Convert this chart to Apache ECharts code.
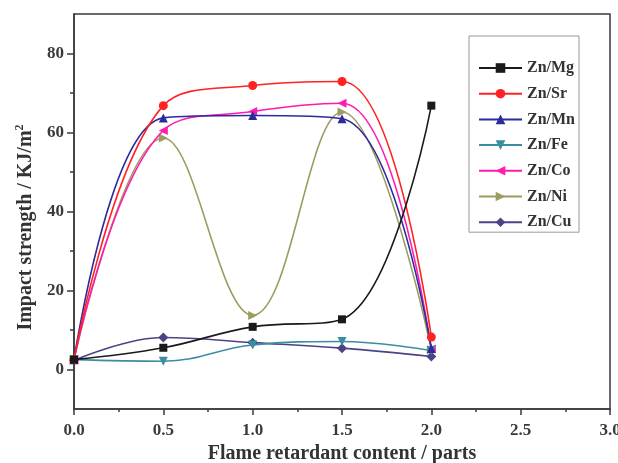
<!DOCTYPE html>
<html><head><meta charset="utf-8">
<script src="https://cdn.jsdelivr.net/npm/echarts@6/dist/echarts.min.js"></script>
<style>html,body{margin:0;padding:0;background:#fff}#c{width:618px;height:463px}</style>
</head><body><div id="c"></div>
<script>
const xValues = [0, 0.5, 1.0, 1.5, 2.0];
const seriesNames = ['Zn/Mg','Zn/Sr','Zn/Mn','Zn/Fe','Zn/Co','Zn/Ni','Zn/Cu'];
const znMg = [2.5, 5.5, 10.8, 12.7, 66.8];
const znSr = [2.5, 66.8, 71.9, 72.9, 8.2];
const znMn = [2.5, 63.7, 64.3, 63.5, 5.3];
const znFe = [2.5, 2.1, 6.2, 7.1, 4.8];
const znCo = [2.5, 60.5, 65.3, 67.4, 5.2];
const znNi = [2.5, 58.6, 13.7, 65.2, 5.0];
const znCu = [2.3, 8.1, 6.8, 5.4, 3.3];
const xTicks = [0, 0.5, 1.0, 1.5, 2.0, 2.5, 3.0];
const yLabelValues = [0, 20, 40, 60, 80];
const yMinorValues = [10, 30, 50, 70];

const colors = ['#1a1a1a','#ff2222','#2b2b9e','#3a8ea0','#ff1ab0','#9c9c5e','#4c4385'];
const symbols = ['rect','circle','triangle','path://M0,0 L10,0 L5,9 Z','path://M9,0 L9,10 L0,5 Z','path://M0,0 L0,10 L9,5 Z','diamond'];
const symSizes = [8,9,9,9,9,9,10];
const dataArr = [znMg, znSr, znMn, znFe, znCo, znNi, znCu];
const font = '"Liberation Serif","DejaVu Serif",serif';
const axisCol = '#3a3a3a';

const series = seriesNames.map((n,i)=>({
  name:n, type:'line', smooth:0.4,
  data: xValues.map((x,j)=>[x, dataArr[i][j]]),
  symbol: symbols[i], symbolSize: symSizes[i],
  lineStyle:{color:colors[i], width:1.6},
  itemStyle:{color:colors[i]},
  z: 10-i
}));

const chart = echarts.init(document.getElementById('c'));
chart.setOption({
  animation:false,
  backgroundColor:'#fff',
  grid:{left:74, right:8, top:14, bottom:54, outerBoundsMode:'none', containLabel:false,
    show:true, borderColor:axisCol, borderWidth:1.5, backgroundColor:'transparent'},
  legend:{
    orient:'vertical', left:469, top:36,
    data: seriesNames,
    itemWidth:43, itemHeight:12, itemGap:9.7,
    padding:[24,4,2,9],
    borderColor:'#999', borderWidth:1,
    textStyle:{fontFamily:font, fontWeight:'bold', fontSize:16, color:'#333'}
  },
  xAxis:{
    type:'value', min:0, max:3, interval:0.5,
    name:'Flame retardant content / parts', nameLocation:'middle', nameGap:27,
    nameTextStyle:{fontFamily:font, fontWeight:'bold', fontSize:20, color:'#333'},
    axisLine:{onZero:false, lineStyle:{color:axisCol, width:1.5}},
    axisTick:{show:true, length:6, lineStyle:{color:axisCol, width:1.5}},
    minorTick:{show:true, splitNumber:2, length:3, lineStyle:{color:axisCol, width:1.5}},
    splitLine:{show:false},
    axisLabel:{margin:13, fontFamily:font, fontWeight:'bold', fontSize:17, color:'#3a3a3a',
      formatter:v=>xTicks.includes(v)?v.toFixed(1):''}
  },
  yAxis:[{
    type:'value', min:-10, max:90, interval:10,
    name:'Impact strength / KJ/m{sup|2}', nameLocation:'middle', nameGap:36,
    nameTextStyle:{fontFamily:font, fontWeight:'bold', fontSize:20, color:'#333', padding:[0,32,0,0],
      rich:{sup:{fontFamily:font, fontWeight:'bold', fontSize:12, color:'#333', verticalAlign:'top', padding:[0,0,12,0]}}},
    axisLine:{show:true, onZero:false, lineStyle:{color:axisCol, width:1.5}},
    axisTick:{show:true, length:7, customValues:yLabelValues, lineStyle:{color:axisCol, width:1.5}},
    splitLine:{show:false},
    axisLabel:{margin:10, customValues:yLabelValues, fontFamily:font, fontWeight:'bold', fontSize:17, color:'#3a3a3a'}
  },{
    type:'value', min:-10, max:90, interval:10, position:'left',
    axisLine:{show:false, onZero:false},
    axisTick:{show:true, length:4, customValues:yMinorValues, lineStyle:{color:axisCol, width:1.5}},
    axisLabel:{show:false}, splitLine:{show:false}
  }],
  series: series
});
</script></body></html>
